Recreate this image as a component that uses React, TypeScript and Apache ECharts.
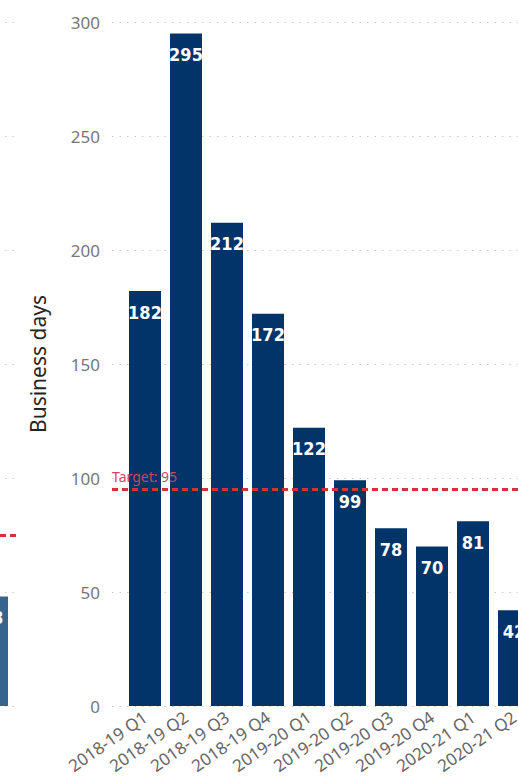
import React, { useEffect, useRef } from "react";
import * as echarts from "echarts";

const categories = [
  "2018-19 Q1", "2018-19 Q2", "2018-19 Q3", "2018-19 Q4",
  "2019-20 Q1", "2019-20 Q2", "2019-20 Q3", "2019-20 Q4",
  "2020-21 Q1", "2020-21 Q2",
];
const businessDays = [182, 295, 212, 172, 122, 99, 78, 70, 81, 42];
const targetValue = 95;
const yTicks = [0, 50, 100, 150, 200, 250, 300];

// fragment of the neighbouring chart visible on the left edge
const prevCategories = [""];
const prevValues = [48];
const prevTarget = 75;

const FONT = "'Noto Sans', 'Open Sans', sans-serif";
const LABEL_FONT = "'DejaVu Sans Condensed', 'DejaVu Sans', sans-serif";
const dotted = { color: "#c8c8c8", width: 1, type: [1.5, 6] as number[] };
const OFF = 40; // chart canvas is shifted left by this many px

export default function App() {
  const ref = useRef<HTMLDivElement>(null);
  useEffect(() => {
    if (!ref.current) return;
    const chart = echarts.init(ref.current, undefined, { renderer: "svg" });
    const yMin = yTicks[0];
    const yMax = yTicks[yTicks.length - 1];
    const yInterval = yTicks[1] - yTicks[0];
    const g = { top: 22, height: 684, containLabel: false, outerBoundsMode: "none" };
    chart.setOption({
      animation: false,
      grid: [
        { ...g, left: OFF + 112, width: 428 },
        { ...g, left: OFF + 124.5, width: 410 },
        { ...g, left: OFF - 40, width: 57 },
        { ...g, left: OFF - 28, width: 40 },
      ],
      xAxis: [
        { gridIndex: 0, type: "value", min: 0, max: 1, show: false },
        {
          gridIndex: 1,
          type: "category",
          data: categories,
          axisLine: { show: false },
          axisTick: { show: false },
          axisLabel: {
            interval: 0,
            rotate: 35,
            margin: 9,
            color: "#666",
            fontSize: 17,
            fontFamily: FONT,
          },
        },
        { gridIndex: 2, type: "value", min: 0, max: 1, show: false },
        { gridIndex: 3, type: "category", data: prevCategories, show: false },
      ],
      yAxis: [
        {
          gridIndex: 0,
          type: "value",
          min: yMin,
          max: yMax,
          interval: yInterval,
          axisLine: { show: false },
          axisTick: { show: false },
          splitLine: { show: true, lineStyle: dotted },
          axisLabel: { color: "#777", fontSize: 17, margin: 12, fontFamily: FONT },
          name: "Business days",
          nameLocation: "middle",
          nameGap: 64,
          nameTextStyle: { color: "#252423", fontSize: 21, fontFamily: FONT },
        },
        { gridIndex: 1, type: "value", min: yMin, max: yMax, interval: yInterval, show: false },
        {
          gridIndex: 2,
          type: "value",
          min: yMin,
          max: yMax,
          interval: yInterval,
          axisLine: { show: false },
          axisTick: { show: false },
          axisLabel: { show: false },
          splitLine: { show: true, lineStyle: dotted },
        },
        { gridIndex: 3, type: "value", min: yMin, max: yMax, interval: yInterval, show: false },
      ],
      series: [
        {
          type: "line",
          xAxisIndex: 0,
          yAxisIndex: 0,
          data: [[0, targetValue], [1, targetValue]],
          symbol: "none",
          lineStyle: { width: 0, opacity: 0 },
          silent: true,
          z: 5,
          markLine: {
            silent: true,
            symbol: "none",
            lineStyle: { color: "#d3323d", width: 3, type: [6, 4] },
            label: {
              show: true,
              position: "insideStartTop",
              formatter: "Target: " + targetValue,
              color: "#d9405a",
              fontSize: 14,
              fontFamily: FONT,
              distance: [0, 6],
            },
            data: [{ yAxis: targetValue }],
          },
        },
        {
          type: "bar",
          xAxisIndex: 1,
          yAxisIndex: 1,
          data: businessDays,
          barWidth: 32,
          z: 2,
          itemStyle: { color: "#02346a" },
          label: {
            show: true,
            position: "insideTop",
            distance: 12,
            color: "#fff",
            fontSize: 18,
            fontWeight: "bold",
            fontFamily: LABEL_FONT,
          },
        },
        {
          type: "line",
          xAxisIndex: 2,
          yAxisIndex: 2,
          data: [[0, prevTarget], [1, prevTarget]],
          symbol: "none",
          lineStyle: { width: 0, opacity: 0 },
          silent: true,
          markLine: {
            silent: true,
            symbol: "none",
            lineStyle: { color: "#d3323d", width: 3, type: [6, 4] },
            label: { show: false },
            data: [{ yAxis: prevTarget }],
          },
        },
        {
          type: "bar",
          xAxisIndex: 3,
          yAxisIndex: 3,
          data: prevValues,
          barWidth: 32,
          itemStyle: { color: "#37648f" },
          label: {
            show: true,
            position: "insideTop",
            distance: 12,
            color: "#fff",
            fontSize: 18,
            fontWeight: "bold",
            fontFamily: LABEL_FONT,
          },
        },
      ],
    });
    return () => chart.dispose();
  }, []);
  return (
    <div
      style={{
        position: "fixed",
        left: 0,
        top: 0,
        width: 518,
        height: 779,
        overflow: "hidden",
        background: "#fff",
      }}
    >
      <div
        ref={ref}
        style={{ position: "absolute", left: -OFF, top: 0, width: 600, height: 779 }}
      />
    </div>
  );
}
